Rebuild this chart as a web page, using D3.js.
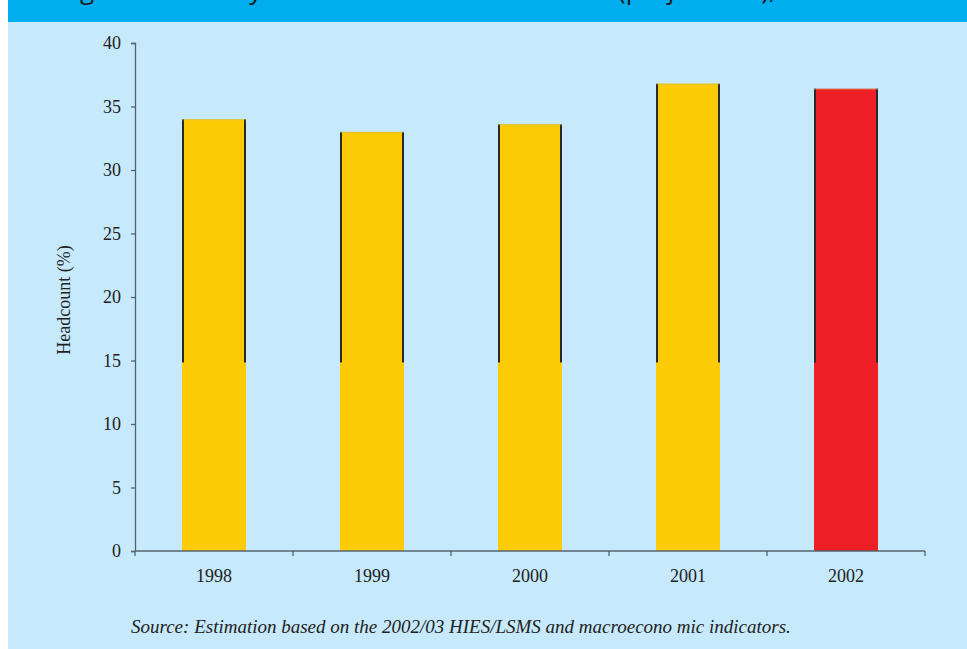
<!DOCTYPE html>
<html><head><meta charset="utf-8">
<script src="https://cdn.jsdelivr.net/npm/d3@7"></script>
<style>
html,body{margin:0;padding:0;background:#fff;}
svg{display:block;}
.serif{font-family:'Liberation Serif','Times New Roman',Times,serif;}
</style></head>
<body>
<script>
const years = ["1998","1999","2000","2001","2002"];
const headcount = [34.0, 33.0, 33.6, 36.8, 36.4];
const barColors = ["#fccb06","#fccb06","#fccb06","#fccb06","#ee1f26"];
const yTicks = [0,5,10,15,20,25,30,35,40];
const edgeFrom = 15;
const titleText = "Figure 2: Poverty headcount index 1998–2002 (projections), ...";
const yLabel = "Headcount (%)";
const sourceText = "Source: Estimation based on the 2002/03 HIES/LSMS and macroecono mic indicators.";

const W = 967, H = 649;
const svg = d3.select("body").append("svg").attr("width", W).attr("height", H);
svg.append("rect").attr("x",0).attr("y",0).attr("width",W).attr("height",H).attr("fill","#ffffff");
svg.append("rect").attr("x",8).attr("y",22).attr("width",W-8).attr("height",H-22).attr("fill","#c6e9fb");
svg.append("rect").attr("x",8).attr("y",0).attr("width",W-8).attr("height",22).attr("fill","#00aeef");
svg.append("text").attr("x",60).attr("y",-1).style("font-family","'Open Sans', sans-serif")
  .attr("font-size",26).attr("fill","#1a1a1a").text(titleText);

const x = d3.scaleBand().domain(years).range([135, 925]).paddingInner(0.595).paddingOuter(0.2975);
const y = d3.scaleLinear().domain([0, 40]).range([551, 43]);

const g = svg.append("g");
g.selectAll("rect.low").data(years).join("rect")
  .attr("x", d => x(d)).attr("width", x.bandwidth())
  .attr("y", (d,i) => y(Math.min(edgeFrom, headcount[i])))
  .attr("height", (d,i) => y(0) - y(Math.min(edgeFrom, headcount[i])))
  .attr("fill", (d,i) => barColors[i]);
g.selectAll("rect.up").data(years).join("rect")
  .attr("x", d => x(d)).attr("width", x.bandwidth())
  .attr("y", (d,i) => y(headcount[i]))
  .attr("height", (d,i) => y(edgeFrom) - y(headcount[i]) + 1)
  .attr("fill", (d,i) => barColors[i]);
years.forEach((d,i) => {
  [x(d)+1, x(d)+x.bandwidth()-1].forEach(xx => {
    g.append("line").attr("x1",xx).attr("x2",xx)
      .attr("y1",y(headcount[i])).attr("y2",y(edgeFrom)+2)
      .attr("stroke","#2a2a2a").attr("stroke-width",2);
  });
  g.append("line").attr("x1",x(d)).attr("x2",x(d)+x.bandwidth())
    .attr("y1",y(headcount[i])+0.5).attr("y2",y(headcount[i])+0.5)
    .attr("stroke","#c9b35a").attr("stroke-opacity",0.5).attr("stroke-width",1);
});

const axisColor = "#56636d";
const yAxis = svg.append("g").attr("transform","translate(135,0)")
  .call(d3.axisLeft(y).tickValues(yTicks).tickSize(4).tickPadding(10));
yAxis.attr("font-family", null).attr("font-size", null);
yAxis.select(".domain").attr("stroke",axisColor).attr("stroke-width",1.3);
yAxis.selectAll(".tick line").attr("stroke",axisColor).attr("stroke-width",1.3);
yAxis.selectAll("text").attr("class","serif").attr("font-size",18).attr("fill","#222");

const xAxis = svg.append("g").attr("transform","translate(0,551)")
  .call(d3.axisBottom(x).tickSize(0).tickPadding(18));
xAxis.attr("font-family", null).attr("font-size", null);
xAxis.select(".domain").remove();
xAxis.selectAll("text").attr("class","serif").attr("font-size",18).attr("fill","#222");
svg.append("line").attr("x1",135).attr("x2",925).attr("y1",551).attr("y2",551)
  .attr("stroke",axisColor).attr("stroke-width",1.5);
const step = x.step();
const bounds = d3.range(years.length+1).map(i => 135 + i*step);
svg.selectAll("line.xt").data(bounds).join("line")
  .attr("x1",d=>d).attr("x2",d=>d).attr("y1",551).attr("y2",556)
  .attr("stroke",axisColor).attr("stroke-width",1.3);

svg.append("text").attr("transform","translate(70,300) rotate(-90)")
  .attr("text-anchor","middle").attr("class","serif")
  .attr("font-size",18).attr("fill","#222").text(yLabel);

svg.append("text").attr("x",131).attr("y",633).attr("class","serif").attr("font-style","italic")
  .attr("font-size",19).attr("fill","#222").text(sourceText);
</script>
</body></html>
